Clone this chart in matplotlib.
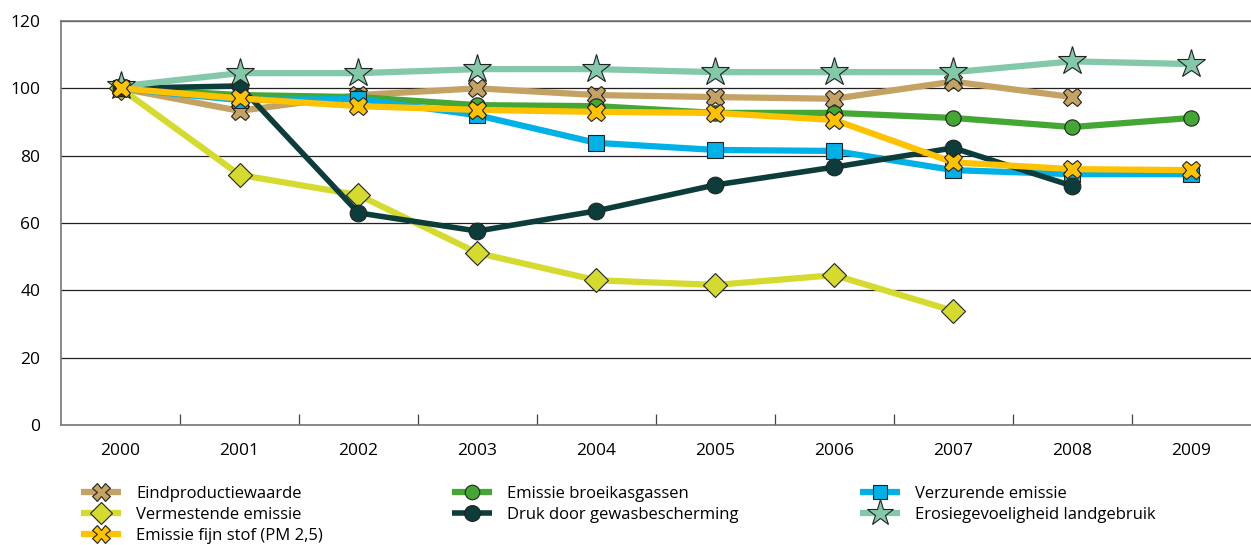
import matplotlib

matplotlib.use("Agg")
import matplotlib.pyplot as plt
from matplotlib.lines import Line2D
import numpy as np

plt.rcParams["font.family"] = ["Open Sans", "DejaVu Sans"]

years = ["2000", "2001", "2002", "2003", "2004", "2005", "2006", "2007", "2008", "2009"]

eindproductiewaarde = [100, 93.3, 98.0, 100.0, 98.0, 97.4, 96.9, 102.0, 97.4, None]
vermestende = [100, 74.3, 68.3, 51.1, 43.0, 41.6, 44.5, 33.9, None, None]
fijn_stof = [100, 97.0, 94.7, 93.6, 93.0, 92.7, 90.6, 78.0, 76.0, 75.7]
broeikasgassen = [100, 98.0, 97.4, 95.0, 94.7, 92.7, 92.7, 91.2, 88.5, 91.2]
gewasbescherming = [100, 100.7, 63.0, 57.6, 63.6, 71.3, 76.6, 82.3, 71.0, None]
verzurende = [100, 96.5, 96.8, 92.0, 83.8, 81.7, 81.4, 75.7, 74.5, 74.5]
erosie = [100.6, 104.5, 104.5, 105.7, 105.7, 104.8, 104.8, 104.8, 108.0, 107.2]

# label, data, colour, marker, markersize, linewidth
series = {
    "eind": ("Eindproductiewaarde", eindproductiewaarde, "#C4A263", "X", 13, 4.5),
    "verm": ("Vermestende emissie", vermestende, "#D5DB2E", "D", 12, 4.5),
    "broei": ("Emissie broeikasgassen", broeikasgassen, "#44A633", "o", 11, 4.5),
    "verz": ("Verzurende emissie", verzurende, "#00B1E8", "s", 11, 4.5),
    "druk": ("Druk door gewasbescherming", gewasbescherming, "#0C3D3B", "o", 12, 4.0),
    "eros": ("Erosiegevoeligheid landgebruik", erosie, "#82C8A9", "*", 21, 4.5),
    "fijn": ("Emissie fijn stof (PM 2,5)", fijn_stof, "#FEC200", "X", 13, 4.5),
}

fig = plt.figure(figsize=(12.51, 5.45), dpi=100)
ax = fig.add_axes([0.0488, 0.2202, 0.951, 0.7413])

x = np.arange(len(years))
for key, (label, vals, col, mk, ms, lw) in series.items():
    y = np.array([np.nan if v is None else v for v in vals], dtype=float)
    ax.plot(x, y, color=col, lw=lw, marker=mk, ms=ms,
            markerfacecolor=col, markeredgecolor="#222222",
            markeredgewidth=0.8, solid_capstyle="butt")

ax.set_xlim(-0.5, 9.5)
ax.set_ylim(0, 120)
ax.set_yticks(np.arange(0, 121, 20))
ax.yaxis.grid(True, color="#222222", lw=0.9)
ax.set_axisbelow(True)
ax.set_xticks(x)
ax.set_xticklabels(years)
ax.set_xticks(np.arange(0.5, 9.5, 1), minor=True)
ax.tick_params(axis="x", which="major", length=0, pad=13, labelsize=12.5)
ax.tick_params(axis="x", which="minor", direction="in", length=8,
               color="#444444", width=0.9)
ax.tick_params(axis="y", length=0, pad=15, labelsize=12.5)
for side in ["left", "bottom", "top"]:
    ax.spines[side].set_color("#777777")
    ax.spines[side].set_linewidth(1.2)
ax.spines["right"].set_visible(False)


def legend_handle(key):
    label, vals, col, mk, ms, lw = series[key]
    return Line2D([], [], color=col, lw=lw, marker=mk, ms=ms * 0.95,
                  markerfacecolor=col, markeredgecolor="#222222",
                  markeredgewidth=0.8, solid_capstyle="butt"), label


columns = [(["eind", "verm", "fijn"], 0.058),
           (["broei", "druk"], 0.355),
           (["verz", "eros"], 0.681)]
for keys, xpos in columns:
    hs, ls = zip(*[legend_handle(k) for k in keys])
    fig.legend(hs, ls, loc="upper left", bbox_to_anchor=(xpos, 0.124),
               frameon=False, fontsize=12, handlelength=2.4,
               handletextpad=0.9, labelspacing=0.3, borderpad=0)

fig.savefig("out.png", dpi=100)
